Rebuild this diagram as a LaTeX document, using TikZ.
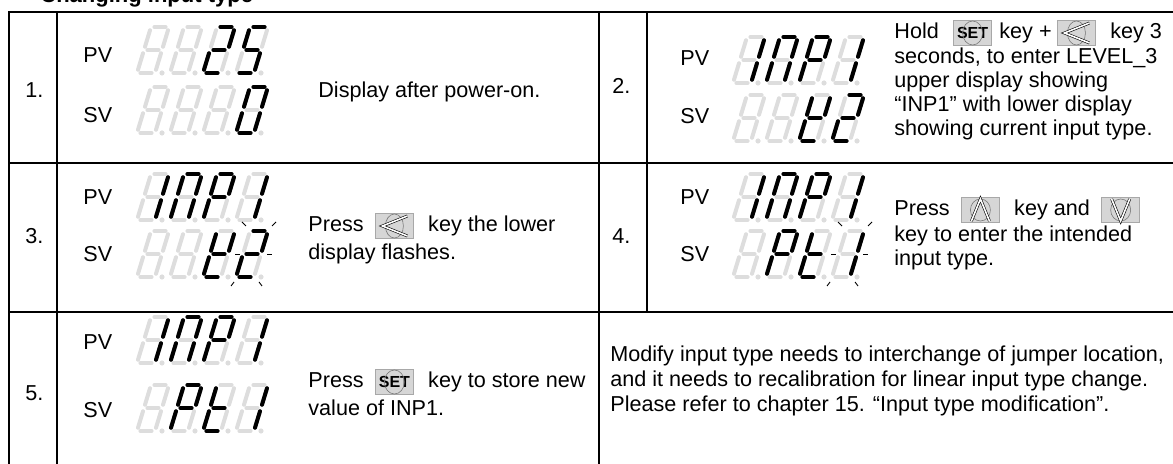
\documentclass[tikz,border=0pt]{standalone}
\usepackage{fontspec}
\setmainfont{Liberation Sans}
\usetikzlibrary{positioning, calc}

\definecolor{segOff}{RGB}{221, 221, 221}
\definecolor{keyFill}{RGB}{214, 214, 214}
\definecolor{keyEdge}{RGB}{168, 168, 168}
\definecolor{ringGray}{RGB}{120, 120, 120}

\newcommand{\bodysize}{\fontsize{10.8pt}{13pt}\selectfont}
\newcommand{\setlbl}{{\fontsize{8pt}{9pt}\selectfont\bfseries SET}}

% one digit of the display at (#1,#2), lit segments #3
\newcommand{\segcell}[3]{%
  \begin{scope}[shift={(#1,#2)}]
    \coordinate (sa1) at (-2,-23);  \coordinate (sa2) at (16,-23);
    \coordinate (sb1) at (16,-23);  \coordinate (sb2) at (9,0);
    \coordinate (sc1) at (9,0);     \coordinate (sc2) at (2,23);
    \coordinate (sd1) at (-16,23);  \coordinate (sd2) at (2,23);
    \coordinate (se1) at (-9,0);    \coordinate (se2) at (-16,23);
    \coordinate (sf1) at (-2,-23);  \coordinate (sf2) at (-9,0);
    \coordinate (sg1) at (-9,0);    \coordinate (sg2) at (9,0);
    \foreach \sg in {a,b,c,d,e,f,g} \draw[segoff] (s\sg1) -- (s\sg2);
    \if\relax\detokenize{#3}\relax\else
      \foreach \sg in {#3} \draw[segon] (s\sg1) -- (s\sg2);
    \fi
    \fill[segOff] (9,23) circle (1.3pt);
  \end{scope}}
\newcommand{\segdisplay}[6]{%
  \segcell{#1}{#2}{#3}\segcell{#1+33}{#2}{#4}%
  \segcell{#1+66}{#2}{#5}\segcell{#1+99}{#2}{#6}}

% flashing marks round a digit
\newcommand{\blinkmarks}[2]{%
  \begin{scope}[shift={(#1,#2)}]
    \draw[tick] (-10,-32) -- (-6,-28);
    \draw[tick] (20,-28) -- (24,-32);
    \draw[tick] (-17,0) -- (-12,0);
    \draw[tick] (15,0) -- (20,0);
    \draw[tick] (-21,32) -- (-18,28);
    \draw[tick] (7,28) -- (10,32);
  \end{scope}}

% key faces
\newcommand{\keyset}[1]{\draw[keyring] (#1.center) ellipse (5pt and 6pt);}
\newcommand{\keyleft}[1]{%
  \draw[keyring] (#1.center) ellipse (4.5pt and 6pt);
  \draw[chev] ($(#1.center)+(13,-10)$) -- ($(#1.center)+(-12,0)$) -- ($(#1.center)+(13,10)$);}
\newcommand{\keyup}[1]{%
  \draw[keyring] (#1.center) ellipse (5pt and 5.5pt);
  \draw[chev] ($(#1.center)+(-9,11)$) -- ($(#1.center)+(0,-11)$) -- ($(#1.center)+(9,11)$);}
\newcommand{\keydown}[1]{%
  \draw[keyring] (#1.center) ellipse (5pt and 5.5pt);
  \draw[chev] ($(#1.center)+(-9,-11)$) -- ($(#1.center)+(0,11)$) -- ($(#1.center)+(9,-11)$);}

\begin{document}
\begin{tikzpicture}[x=0.5pt, y=-0.5pt,
    grid/.style={line width=0.9pt},
    txt/.style={font=\bodysize, inner sep=0pt, text height=7.8pt, text depth=2.3pt},
    lbl/.style={txt, anchor=west},
    keybtn/.style={draw=keyEdge, fill=keyFill, line width=0.4pt,
                   minimum width=19pt, minimum height=12.5pt, inner sep=0pt},
    keyring/.style={draw=ringGray, line width=0.3pt},
    chev/.style={draw=black, line width=0.3pt, double=white, double distance=0.8pt},
    segoff/.style={draw=segOff, line width=2pt, line cap=round,
                   shorten >=1.7pt, shorten <=1.7pt},
    segon/.style={segoff, draw=black},
    tick/.style={draw=black, line width=0.45pt},
  ]
    \useasboundingbox (0,0) rectangle (1173,464);

    % heading, cut by the top edge
    \begin{scope}
      \clip (0,0) rectangle (1173,464);
      \node[anchor=base west, inner sep=0pt, font=\fontsize{11pt}{13pt}\selectfont\bfseries]
           (title) at (40,3) {Changing input type};
    \end{scope}

    % table, its right and bottom edges lie outside the page
    \draw[grid] (9,464) |- (1173,12);
    \draw[grid] (57,12) -- (57,464);
    \draw[grid] (599,12) -- (599,464);
    \draw[grid] (647,12) -- (647,312);
    \draw[grid] (9,163) -- (1173,163);
    \draw[grid] (9,312) -- (1173,312);

    % step numbers
    \node[lbl] (n1) at (25,92) {1.};
    \node[lbl] (n2) at (612,88) {2.};
    \node[lbl] (n3) at (25,238) {3.};
    \node[lbl] (n4) at (612,238) {4.};
    \node[lbl] (n5) at (25,395) {5.};

    % PV / SV labels
    \node[lbl] (pv1) at (83,57) {PV};
    \node[lbl] (sv1) at (83,117) {SV};
    \node[lbl] (pv2) at (680,60) {PV};
    \node[lbl] (sv2) at (680,118) {SV};
    \node[lbl] (pv3) at (83,199) {PV};
    \node[lbl] (sv3) at (83,256) {SV};
    \node[lbl] (pv4) at (680,199) {PV};
    \node[lbl] (sv4) at (680,256) {SV};
    \node[lbl] (pv5) at (83,344) {PV};
    \node[lbl] (sv5) at (83,412) {SV};

    % step 1
    \segdisplay{153}{50}{}{}{a,b,g,e,d}{a,f,g,c,d}
    \segdisplay{153}{110}{}{}{}{a,b,c,d,e,f}
    \node[lbl] (d1) at (318,92) {Display after power-on.};

    % step 2
    \segdisplay{749}{60}{b,c}{a,b,c,e,f}{a,b,f,g,e}{b,c}
    \segdisplay{749}{118}{}{}{f,b,g,e,d}{a,b,g,e,d}
    \node[lbl] (h1) at (894,33) {Hold};
    \node[keybtn, right=7pt of h1] (kset2) {\setlbl};
    \node[txt, right=3.5pt of kset2] (h2) {key +};
    \node[keybtn, right=2.5pt of h2] (kleft2) {};
    \node[txt, right=7pt of kleft2] (h3) {key 3};
    \keyset{kset2}
    \keyleft{kleft2}
    \node[lbl] (h4) at (894,58) {seconds, to enter LEVEL\_3};
    \node[lbl] (h5) at (894,82) {upper display showing};
    \node[lbl] (h6) at (894,106) {“INP1” with lower display};
    \node[lbl] (h7) at (894,130) {showing current input type.};

    % step 3
    \segdisplay{153}{197}{b,c}{a,b,c,e,f}{a,b,f,g,e}{b,c}
    \segdisplay{153}{254}{}{}{f,b,g,e,d}{a,b,g,e,d}
    \blinkmarks{252}{254}
    \node[lbl] (p3a) at (308,226) {Press};
    \node[keybtn, right=5.5pt of p3a] (kleft3) {};
    \node[txt, right=7pt of kleft3] (p3b) {key the lower};
    \keyleft{kleft3}
    \node[lbl] (p3c) at (308,254) {display flashes.};

    % step 4
    \segdisplay{749}{197}{b,c}{a,b,c,e,f}{a,b,f,g,e}{b,c}
    \segdisplay{749}{254}{}{a,b,f,g,e}{f,e,d,g}{b,c}
    \blinkmarks{848}{254}
    \node[lbl] (p4a) at (894,210) {Press};
    \node[keybtn, right=5.5pt of p4a] (kup4) {};
    \node[txt, right=7pt of kup4] (p4b) {key and};
    \node[keybtn, right=5.5pt of p4b] (kdown4) {};
    \keyup{kup4}
    \keydown{kdown4}
    \node[lbl] (p4c) at (894,236) {key to enter the intended};
    \node[lbl] (p4d) at (894,260) {input type.};

    % step 5
    \segdisplay{153}{340}{b,c}{a,b,c,e,f}{a,b,f,g,e}{b,c}
    \segdisplay{153}{408}{}{a,b,f,g,e}{f,e,d,g}{b,c}
    \node[lbl] (p5a) at (308,382) {Press};
    \node[keybtn, right=5.5pt of p5a] (kset5) {\setlbl};
    \node[txt, right=7pt of kset5] (p5b) {key to store new};
    \keyset{kset5}
    \node[lbl] (p5c) at (308,410) {value of INP1.};

    % note on jumpers
    \node[lbl] (m1) at (610,356) {Modify input type needs to interchange of jumper location,};
    \node[lbl] (m2) at (610,381) {and it needs to recalibration for linear input type change.};
    \node[lbl] (m3) at (610,406) {Please refer to chapter 15. “Input type modification”.};
  \end{tikzpicture}
\end{document}
